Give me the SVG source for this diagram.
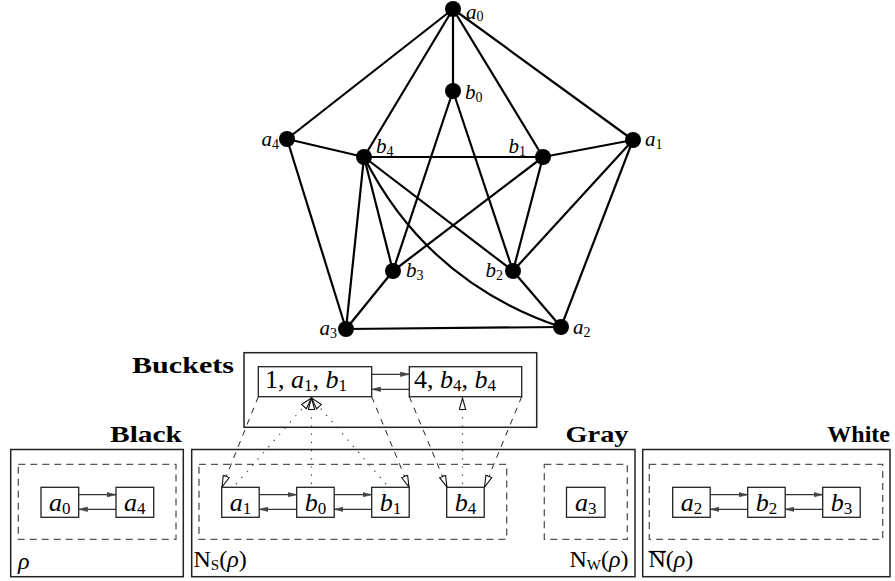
<svg xmlns="http://www.w3.org/2000/svg" width="895" height="581" viewBox="0 0 895 581">
<style>
.edge{stroke:#000;stroke-width:2.2;fill:none}
.dot{fill:#000}
.lbl{font-family:"Liberation Serif",serif;font-size:21px;font-style:italic;fill:#000}
.sub{font-style:normal;font-size:14px}
.big{font-family:"Liberation Serif",serif;font-size:26px;fill:#000}
.bsub{font-style:normal;font-size:17px}
.it{font-style:italic}
.hdr{font-family:"Liberation Serif",serif;font-size:24px;font-weight:bold;fill:#000}
.lab{font-family:"Liberation Serif",serif;font-size:24px;fill:#000}
.outer{fill:none;stroke:#222;stroke-width:1.5}
.inner{fill:none;stroke:#555;stroke-width:1.3;stroke-dasharray:7 5}
.box{fill:#fff;stroke:#222;stroke-width:1.3}
.link{stroke:#333;stroke-width:1.3;fill:none}
.dash{stroke:#222;stroke-width:1;fill:none;stroke-dasharray:6 6}
.dotl{stroke:#333;stroke-width:1.2;fill:none;stroke-dasharray:1.2 7}
</style>
<defs>
<marker id="fa" markerUnits="userSpaceOnUse" markerWidth="10" markerHeight="6" refX="9" refY="3" orient="auto">
<path d="M0,0.8 L9,3 L0,5.2 z" fill="#444" stroke="#444" stroke-width="0.6"/>
</marker>
<marker id="oa" markerUnits="userSpaceOnUse" markerWidth="14" markerHeight="10" refX="12" refY="4" orient="auto">
<path d="M0.5,0.8 L12,4 L0.5,7.2 z" fill="#fff" stroke="#111" stroke-width="1.1"/>
</marker>
</defs>

<g id="connectors">
<g id="graph-edges">
<line class="edge" x1="453" y1="9" x2="287" y2="139"/>
<line class="edge" x1="453" y1="9" x2="364" y2="157"/>
<line class="edge" x1="453" y1="9" x2="453" y2="91"/>
<line class="edge" x1="453" y1="9" x2="543" y2="157"/>
<line class="edge" x1="453" y1="9" x2="633" y2="140"/>
<line class="edge" x1="287" y1="139" x2="364" y2="157"/>
<line class="edge" x1="287" y1="139" x2="346" y2="329"/>
<line class="edge" x1="633" y1="140" x2="543" y2="157"/>
<line class="edge" x1="633" y1="140" x2="513" y2="271"/>
<line class="edge" x1="633" y1="140" x2="561" y2="327"/>
<line class="edge" x1="453" y1="91" x2="393" y2="271"/>
<line class="edge" x1="453" y1="91" x2="513" y2="271"/>
<line class="edge" x1="364" y1="157" x2="543" y2="157"/>
<line class="edge" x1="364" y1="157" x2="393" y2="271"/>
<line class="edge" x1="364" y1="157" x2="513" y2="271"/>
<line class="edge" x1="364" y1="157" x2="346" y2="329"/>
<path class="edge" d="M364,157 Q427,282 561,327"/>
<line class="edge" x1="543" y1="157" x2="393" y2="271"/>
<line class="edge" x1="543" y1="157" x2="513" y2="271"/>
<line class="edge" x1="393" y1="271" x2="346" y2="329"/>
<line class="edge" x1="513" y1="271" x2="561" y2="327"/>
<line class="edge" x1="346" y1="329" x2="561" y2="327"/>
</g>
<g id="list-links">
<line class="link" x1="371.7" y1="374.3" x2="409.3" y2="374.3" marker-end="url(#fa)"/>
<line class="link" x1="409.3" y1="389.3" x2="371.7" y2="389.3" marker-end="url(#fa)"/>
<line class="link" x1="78.7" y1="494.7" x2="116" y2="494.7" marker-end="url(#fa)"/>
<line class="link" x1="116" y1="509.3" x2="78.7" y2="509.3" marker-end="url(#fa)"/>
<line class="link" x1="259.2" y1="494.7" x2="296.7" y2="494.7" marker-end="url(#fa)"/>
<line class="link" x1="296.7" y1="509.3" x2="259.2" y2="509.3" marker-end="url(#fa)"/>
<line class="link" x1="334.2" y1="494.7" x2="371.7" y2="494.7" marker-end="url(#fa)"/>
<line class="link" x1="371.7" y1="509.3" x2="334.2" y2="509.3" marker-end="url(#fa)"/>
<line class="link" x1="710.2" y1="494.7" x2="747.7" y2="494.7" marker-end="url(#fa)"/>
<line class="link" x1="747.7" y1="509.3" x2="710.2" y2="509.3" marker-end="url(#fa)"/>
<line class="link" x1="785.2" y1="494.7" x2="822.7" y2="494.7" marker-end="url(#fa)"/>
<line class="link" x1="822.7" y1="509.3" x2="785.2" y2="509.3" marker-end="url(#fa)"/>
</g>
<g id="bucket-pointers">
<line class="dash" x1="258.3" y1="396.7" x2="222" y2="487" marker-end="url(#oa)"/>
<line class="dash" x1="371.7" y1="396.7" x2="409" y2="487" marker-end="url(#oa)"/>
<line class="dash" x1="409.3" y1="396.7" x2="447" y2="487" marker-end="url(#oa)"/>
<line class="dash" x1="521.7" y1="396.7" x2="484.5" y2="487" marker-end="url(#oa)"/>
<line class="dotl" x1="236" y1="484" x2="311.5" y2="398" marker-end="url(#oa)"/>
<line class="dotl" x1="311.5" y1="484" x2="311.5" y2="398" marker-end="url(#oa)"/>
<line class="dotl" x1="386" y1="484" x2="311.5" y2="398" marker-end="url(#oa)"/>
<line class="dotl" x1="462.5" y1="484" x2="462.5" y2="398" marker-end="url(#oa)"/>
</g>
</g>

<g id="node-a0"><circle class="dot" cx="453" cy="9" r="8"/><text class="lbl" x="466" y="18.5" font-size="20">a<tspan class="sub" dy="2">0</tspan></text></g>
<g id="node-b0"><circle class="dot" cx="453" cy="91" r="8"/><text class="lbl" x="465" y="99">b<tspan class="sub" dy="3">0</tspan></text></g>
<g id="node-a4"><circle class="dot" cx="287" cy="139" r="8"/><text class="lbl" x="279" y="146" text-anchor="end">a<tspan class="sub" dy="3">4</tspan></text></g>
<g id="node-a1"><circle class="dot" cx="633" cy="140" r="8"/><text class="lbl" x="645" y="146">a<tspan class="sub" dy="3">1</tspan></text></g>
<g id="node-b4"><circle class="dot" cx="364" cy="157" r="8"/><text class="lbl" x="376" y="153">b<tspan class="sub" dy="3">4</tspan></text></g>
<g id="node-b1"><circle class="dot" cx="543" cy="157" r="8"/><text class="lbl" x="526" y="153" text-anchor="end">b<tspan class="sub" dy="3">1</tspan></text></g>
<g id="node-b3"><circle class="dot" cx="393" cy="271" r="8"/><text class="lbl" x="406" y="277">b<tspan class="sub" dy="3">3</tspan></text></g>
<g id="node-b2"><circle class="dot" cx="513" cy="271" r="8"/><text class="lbl" x="503" y="277" text-anchor="end">b<tspan class="sub" dy="3">2</tspan></text></g>
<g id="node-a3"><circle class="dot" cx="346" cy="329" r="8"/><text class="lbl" x="337" y="335" text-anchor="end">a<tspan class="sub" dy="3">3</tspan></text></g>
<g id="node-a2"><circle class="dot" cx="561" cy="327" r="8"/><text class="lbl" x="573" y="334">a<tspan class="sub" dy="3">2</tspan></text></g>

<g id="buckets">
<text class="hdr" x="132" y="373" textLength="102" lengthAdjust="spacingAndGlyphs">Buckets</text>
<rect class="outer" x="244" y="352.7" width="292.7" height="74.6"/>
<g id="bucket-1">
<rect class="box" x="258.3" y="366.7" width="113.4" height="30"/>
<text class="big" x="265" y="388">1, <tspan class="it">a</tspan><tspan class="bsub" dy="3">1</tspan><tspan dy="-3">, </tspan><tspan class="it">b</tspan><tspan class="bsub" dy="3">1</tspan></text>
</g>
<g id="bucket-4">
<rect class="box" x="409.3" y="366.7" width="112.4" height="30"/>
<text class="big" x="414" y="388">4, <tspan class="it">b</tspan><tspan class="bsub" dy="3">4</tspan><tspan dy="-3">, </tspan><tspan class="it">b</tspan><tspan class="bsub" dy="3">4</tspan></text>
</g>
</g>

<g id="black">
<text class="hdr" x="182" y="442" text-anchor="end" textLength="72" lengthAdjust="spacingAndGlyphs">Black</text>
<rect class="outer" x="10.7" y="449.5" width="172.6" height="127.2"/>
<rect class="inner" x="18.3" y="464.3" width="157.7" height="75"/>
<g id="box-a0"><rect class="box" x="41" y="487.3" width="37.7" height="30"/><text class="big it" x="59.8" y="510.5" text-anchor="middle">a<tspan class="bsub" dy="3">0</tspan></text></g>
<g id="box-a4"><rect class="box" x="116" y="487.3" width="37.7" height="30"/><text class="big it" x="134.8" y="510.5" text-anchor="middle">a<tspan class="bsub" dy="3">4</tspan></text></g>
<text class="lab it" x="18" y="569">ρ</text>
</g>

<g id="gray">
<text class="hdr" x="628.5" y="442" text-anchor="end" textLength="63" lengthAdjust="spacingAndGlyphs">Gray</text>
<rect class="outer" x="191.7" y="449.5" width="443.3" height="127.2"/>
<rect class="inner" x="199" y="464.3" width="307.7" height="75"/>
<rect class="inner" x="544.3" y="464.3" width="83" height="75"/>
<g id="box-a1"><rect class="box" x="221.7" y="487.3" width="37.5" height="30"/><text class="big it" x="240.5" y="510.5" text-anchor="middle">a<tspan class="bsub" dy="3">1</tspan></text></g>
<g id="box-b0"><rect class="box" x="296.7" y="487.3" width="37.5" height="30"/><text class="big it" x="315.5" y="510.5" text-anchor="middle">b<tspan class="bsub" dy="3">0</tspan></text></g>
<g id="box-b1"><rect class="box" x="371.7" y="487.3" width="37.5" height="30"/><text class="big it" x="390.5" y="510.5" text-anchor="middle">b<tspan class="bsub" dy="3">1</tspan></text></g>
<g id="box-b4"><rect class="box" x="446.7" y="487.3" width="37.5" height="30"/><text class="big it" x="465.5" y="510.5" text-anchor="middle">b<tspan class="bsub" dy="3">4</tspan></text></g>
<g id="box-a3"><rect class="box" x="566.5" y="487.3" width="38.5" height="30"/><text class="big it" x="585.8" y="510.5" text-anchor="middle">a<tspan class="bsub" dy="3">3</tspan></text></g>
<text class="lab" x="193.5" y="567">N<tspan font-size="15" dy="3">S</tspan><tspan dy="-3">(</tspan><tspan class="it">ρ</tspan>)</text>
<text class="lab" x="628.5" y="567" text-anchor="end">N<tspan font-size="15" dy="3">W</tspan><tspan dy="-3">(</tspan><tspan class="it">ρ</tspan>)</text>
</g>

<g id="white">
<text class="hdr" x="890" y="442" text-anchor="end">White</text>
<rect class="outer" x="642.7" y="449.5" width="247.3" height="127.2"/>
<rect class="inner" x="649.3" y="464.3" width="233.4" height="75"/>
<g id="box-a2"><rect class="box" x="672.7" y="487.3" width="37.5" height="30"/><text class="big it" x="691.5" y="510.5" text-anchor="middle">a<tspan class="bsub" dy="3">2</tspan></text></g>
<g id="box-b2"><rect class="box" x="747.7" y="487.3" width="37.5" height="30"/><text class="big it" x="766.5" y="510.5" text-anchor="middle">b<tspan class="bsub" dy="3">2</tspan></text></g>
<g id="box-b3"><rect class="box" x="822.7" y="487.3" width="37.5" height="30"/><text class="big it" x="841.5" y="510.5" text-anchor="middle">b<tspan class="bsub" dy="3">3</tspan></text></g>
<text class="lab" x="648.5" y="567">N(<tspan class="it">ρ</tspan>)</text>
<line x1="648.5" y1="551.5" x2="666" y2="551.5" stroke="#000" stroke-width="1.2"/>
</g>
</svg>
